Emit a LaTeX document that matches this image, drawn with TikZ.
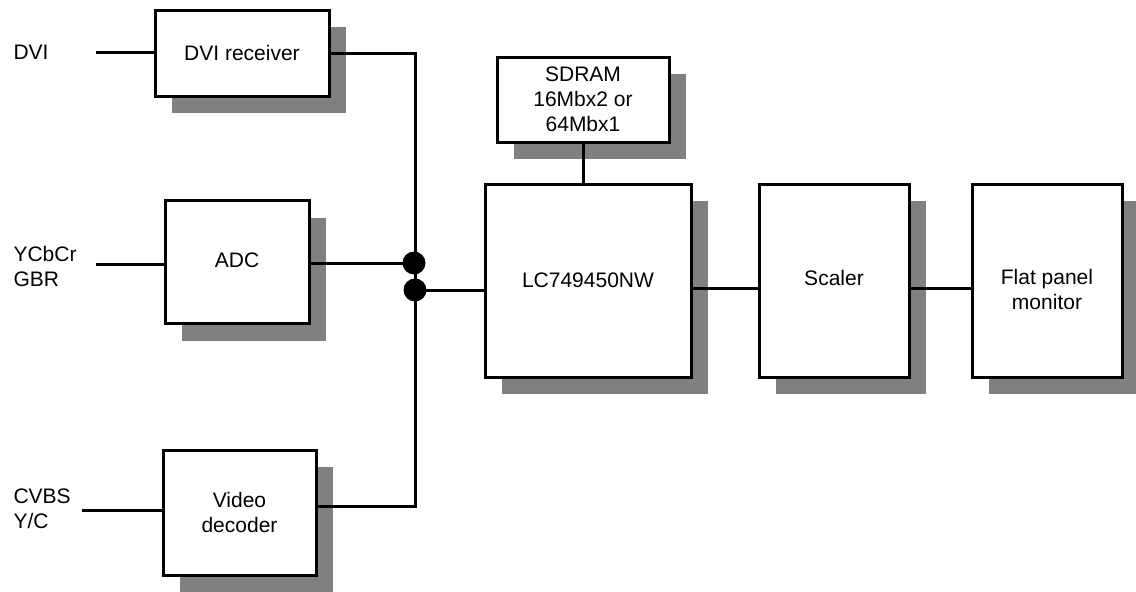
\documentclass[tikz,border=0pt]{standalone}
\usepackage{fontspec}
\setmainfont{Liberation Sans}
\usetikzlibrary{shadows}
\definecolor{shgray}{HTML}{808080}
\begin{document}
\begin{tikzpicture}[x=1pt,y=-1pt,line width=3pt,
  every node/.style={font=\fontsize{21}{25}\selectfont},
  blk/.style={draw=black,fill=white,inner sep=0pt,align=center,
    general shadow={fill=shgray,shadow xshift=17pt,shadow yshift=-17pt}},
  lbl/.style={anchor=west,align=left,inner sep=0pt},
  dot/.style={circle,fill=black,draw=none,inner sep=0pt,minimum size=23pt}]
\useasboundingbox (0,0) rectangle (1136,592);
% blocks
\node[blk,minimum width=174pt,minimum height=86pt] (dvi) at (242,53) {DVI receiver};
\node[blk,minimum width=144pt,minimum height=123pt] (adc) at (237,262) {\raisebox{3pt}{ADC}};
\node[blk,minimum width=153pt,minimum height=125pt] (vd) at (239.5,512.5) {Video\\decoder};
\node[blk,minimum width=172pt,minimum height=85pt] (sd) at (583,99.5) {SDRAM\\16Mbx2 or\\64Mbx1};
\node[blk,minimum width=206pt,minimum height=193pt] (lc) at (588,280.5) {LC749450NW};
\node[blk,minimum width=150pt,minimum height=193pt,
  label={[yshift=3pt]center:Scaler}] (sc) at (834,280.5) {};
\node[blk,minimum width=150pt,minimum height=193pt,
  label={[align=center,yshift=-9pt]center:Flat panel\\monitor}] (fp) at (1047,280.5) {};
% input labels
\node[lbl] (tdvi) at (12,52) {DVI};
\node[lbl] (tycb) at (12,266) {YCbCr\\GBR};
\node[lbl] (tcvbs) at (12,509) {CVBS\\Y/C};
% line ends
\coordinate (idvi) at (96,52);
\coordinate (iadc) at (96,264);
\coordinate (ivd) at (82,510);
\coordinate (busbot) at (415,506.5);
\coordinate (row) at (0,288);
% junction dots
\node[dot] (j1) at (414,263) {};
\node[dot] (j2) at (415,290) {};
% connectors
\draw (idvi) -- (idvi -| dvi.west);
\draw (iadc) -- (iadc -| adc.west);
\draw (ivd) -- (ivd -| vd.west);
\draw (dvi.east) -| (busbot) -- (busbot -| vd.east);
\draw (j1 -| adc.east) -- (j1.center);
\draw (j2.center) -- (j2 -| lc.west);
\draw (sd.south) -- (sd.south |- lc.north);
\draw (row -| lc.east) -- (row -| sc.west);
\draw (row -| sc.east) -- (row -| fp.west);
\end{tikzpicture}
\end{document}
